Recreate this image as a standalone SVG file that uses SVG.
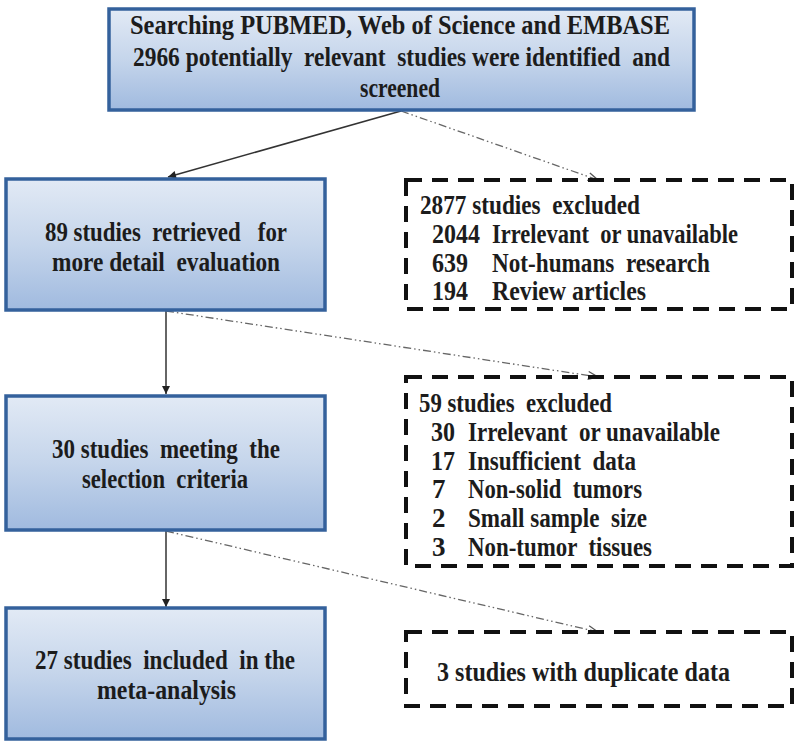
<svg xmlns="http://www.w3.org/2000/svg" width="800" height="745" viewBox="0 0 800 745">
<defs>
<linearGradient id="g" x1="0" y1="0" x2="0" y2="1">
<stop offset="0" stop-color="#e2eaf5"/>
<stop offset="0.5" stop-color="#c5d5eb"/>
<stop offset="1" stop-color="#a0badf"/>
</linearGradient>
<marker id="ah" viewBox="0 0 10 10" refX="10" refY="5" markerWidth="9" markerHeight="8" orient="auto" markerUnits="userSpaceOnUse">
<path d="M0,0 L10,5 L0,10 z" fill="#222"/>
</marker>
<marker id="oh" viewBox="0 0 12 10" refX="11" refY="5" markerWidth="12" markerHeight="10" orient="auto" markerUnits="userSpaceOnUse">
<path d="M1,1 L11,5 L1,9" fill="none" stroke="#555" stroke-width="1.3"/>
</marker>
</defs>
<style>
.box{fill:url(#g);stroke:#34619c;stroke-width:3.5}
.dbox{fill:none;stroke:#111;stroke-width:4;stroke-dasharray:16 10}
text{font-family:"Liberation Serif","Times New Roman",serif;font-weight:bold;fill:#1c1c1c;font-size:27px;white-space:pre}
.solid{stroke:#333;stroke-width:1.5;fill:none;marker-end:url(#ah)}
.dd{stroke:#666;stroke-width:1.3;fill:none;stroke-dasharray:8 3 1.5 3 1.5 3;marker-end:url(#oh)}
</style>
<rect width="800" height="745" fill="#fff"/>
<g id="connectors">
<path class="solid" d="M401,111 L168,177"/>
<path class="dd" d="M401,111 L598,180"/>
<path class="solid" d="M166,311 L166,394"/>
<path class="dd" d="M166,311 L598,377"/>
<path class="solid" d="M166,531 L166,607"/>
<path class="dd" d="M166,531 L598,632"/>
</g>
<g id="n1">
<rect class="box" x="109" y="9" width="585" height="101"/>
<text x="130" y="34" textLength="540" lengthAdjust="spacingAndGlyphs">Searching PUBMED, Web of Science and EMBASE</text>
<text x="133" y="66" textLength="537" lengthAdjust="spacingAndGlyphs">2966 potentially  relevant  studies were identified  and</text>
<text x="360" y="97" textLength="80" lengthAdjust="spacingAndGlyphs">screened</text>
</g>
<g id="n2">
<rect class="box" x="6" y="179" width="319" height="131"/>
<text x="45" y="241" textLength="242" lengthAdjust="spacingAndGlyphs">89 studies  retrieved   for</text>
<text x="52" y="271" textLength="228" lengthAdjust="spacingAndGlyphs">more detail  evaluation</text>
</g>
<g id="n3">
<rect class="box" x="6" y="396" width="319" height="134"/>
<text x="52" y="458" textLength="228" lengthAdjust="spacingAndGlyphs">30 studies  meeting  the</text>
<text x="82" y="488" textLength="166" lengthAdjust="spacingAndGlyphs">selection  criteria</text>
</g>
<g id="n4">
<rect class="box" x="6" y="608" width="319" height="131"/>
<text x="35" y="669" textLength="260" lengthAdjust="spacingAndGlyphs">27 studies  included  in the</text>
<text x="97" y="699" textLength="139" lengthAdjust="spacingAndGlyphs">meta-analysis</text>
</g>
<g id="d1">
<rect class="dbox" x="406" y="180" width="386" height="129"/>
<text x="420" y="214" textLength="220" lengthAdjust="spacingAndGlyphs">2877 studies  excluded</text>
<text x="432" y="243" textLength="48" lengthAdjust="spacingAndGlyphs">2044</text>
<text x="492" y="243" textLength="246" lengthAdjust="spacingAndGlyphs">Irrelevant  or unavailable</text>
<text x="432" y="272" textLength="36" lengthAdjust="spacingAndGlyphs">639</text>
<text x="492" y="272" textLength="218" lengthAdjust="spacingAndGlyphs">Not-humans  research</text>
<text x="432" y="300" textLength="36" lengthAdjust="spacingAndGlyphs">194</text>
<text x="492" y="300" textLength="154" lengthAdjust="spacingAndGlyphs">Review articles</text>
</g>
<g id="d2">
<rect class="dbox" x="406" y="377" width="386" height="189"/>
<text x="419" y="412" textLength="193" lengthAdjust="spacingAndGlyphs">59 studies  excluded</text>
<text x="431" y="441" textLength="24" lengthAdjust="spacingAndGlyphs">30</text>
<text x="468" y="441" textLength="252" lengthAdjust="spacingAndGlyphs">Irrelevant  or unavailable</text>
<text x="431" y="470" textLength="24" lengthAdjust="spacingAndGlyphs">17</text>
<text x="468" y="470" textLength="168" lengthAdjust="spacingAndGlyphs">Insufficient  data</text>
<text x="432" y="498">7</text>
<text x="468" y="498" textLength="174" lengthAdjust="spacingAndGlyphs">Non-solid  tumors</text>
<text x="432" y="527">2</text>
<text x="468" y="527" textLength="179" lengthAdjust="spacingAndGlyphs">Small sample  size</text>
<text x="432" y="556">3</text>
<text x="468" y="556" textLength="184" lengthAdjust="spacingAndGlyphs">Non-tumor  tissues</text>
</g>
<g id="d3">
<rect class="dbox" x="406" y="632" width="386" height="74"/>
<text x="437" y="681" textLength="293" lengthAdjust="spacingAndGlyphs">3 studies with duplicate data</text>
</g>
</svg>
